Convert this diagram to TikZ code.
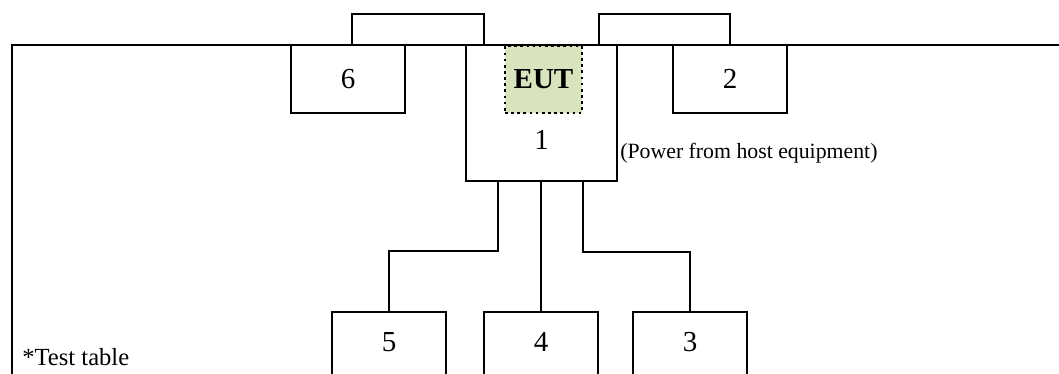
\documentclass[tikz,border=0pt]{standalone}
\usepackage{fontspec}
\setmainfont{Liberation Serif}
\usepackage{tikz}
\usetikzlibrary{positioning, calc}
\definecolor{EUTGreen}{RGB}{215,228,189}

\begin{document}
\begin{tikzpicture}[x=0.02cm, y=-0.02cm,
          unit/.style={rectangle, draw, line width=1.15pt, inner sep=0pt,
                       minimum width=2.28cm, font=\fontsize{16.5}{18}\selectfont},
          num/.style={inner sep=0pt, font=\fontsize{16.5}{18}\selectfont},
          wire/.style={line width=1.15pt}
        ]
        \useasboundingbox (0,0) rectangle (1059,374);
        \clip (0,0) rectangle (1059,374);

        % Test table
        \draw[wire] (1100,45) -| (12,420);
        \node[anchor=west, inner sep=0pt, font=\fontsize{14}{16}\selectfont]
              (table) at (22,357) {*Test table};

        % Top row
        \node[unit, minimum height=1.36cm] (box6) at (348,79) {6};
        \node[unit, minimum width=3.02cm, minimum height=2.72cm] (box1) at (541.5,113) {};
        \node[num] (num1) at (541.5,140) {1};
        \node[unit, minimum height=1.36cm] (box2) at (730,79) {2};

        % EUT
        \node[rectangle, draw, dotted, line width=1.5pt, fill=EUTGreen,
              minimum width=1.54cm, minimum height=1.34cm, inner sep=0pt,
              font=\fontsize{16.5}{18}\selectfont\bfseries] (eut) at (543.5,79.5) {EUT};

        % Power note
        \node[anchor=west, inner sep=0pt, font=\fontsize{12.4}{14}\selectfont]
              (power) at (620,153) {(Power from host equipment)};

        % Bottom row
        \node[unit, anchor=north, minimum height=2cm] (box5) at (389,311) {};
        \node[num] (num5) at (389,342) {5};
        \node[unit, anchor=north, minimum height=2cm] (box4) at (541,311) {};
        \node[num] (num4) at (541,342) {4};
        \node[unit, anchor=north, minimum height=2cm] (box3) at (690,311) {};
        \node[num] (num3) at (690,342) {3};

        % Cables
        \draw[wire] ([xshift=0.08cm]box6.north) -- ++(0,-30)
              -| ([xshift=0.38cm]box1.north west);
        \draw[wire] ([xshift=-0.38cm]box1.north east) -- ++(0,-30) -| (box2.north);
        \draw[wire] ([xshift=0.66cm]box1.south west) -- ++(0,69) -| (box5.north);
        \draw[wire] (box1.south -| box4.north) -- (box4.north);
        \draw[wire] ([xshift=-0.7cm]box1.south east) -- ++(0,70) -| (box3.north);
      \end{tikzpicture}
\end{document}
